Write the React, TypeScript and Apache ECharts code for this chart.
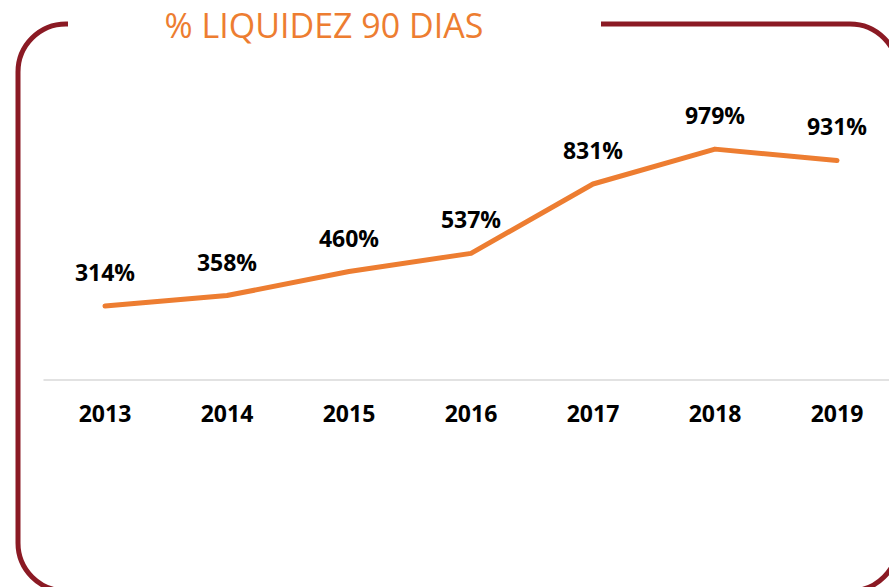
import React, { useEffect, useRef } from "react";
import * as echarts from "echarts";

const categories = ["2013", "2014", "2015", "2016", "2017", "2018", "2019"];
const values = [314, 358, 460, 537, 831, 979, 931];
const titleText = "% LIQUIDEZ 90 DIAS";

export default function App() {
  const ref = useRef<HTMLDivElement>(null);
  useEffect(() => {
    if (!ref.current) return;
    const chart = echarts.init(ref.current, null, { renderer: "svg" });
    chart.setOption({
      animation: false,
      backgroundColor: "#ffffff",
      grid: { left: 44, top: 97, width: 854, height: 283, containLabel: false },
      xAxis: {
        type: "category",
        data: categories,
        boundaryGap: true,
        axisLine: { show: true, lineStyle: { color: "#D9D9D9", width: 1.5 } },
        axisTick: { show: false },
        axisLabel: {
          color: "#000000",
          fontFamily: "Open Sans",
          fontWeight: "bold",
          fontSize: 23,
          margin: 21,
        },
      },
      yAxis: {
        type: "value",
        min: 0,
        max: 1200,
        show: false,
        splitLine: { show: false },
      },
      series: [
        {
          type: "line",
          data: values,
          showSymbol: true,
          symbol: "circle",
          symbolSize: 1,
          itemStyle: { color: "rgba(237,125,49,0)", borderWidth: 0 },
          lineStyle: { color: "#ED7D31", width: 5, cap: "round", join: "round" },
          label: {
            show: true,
            position: "top",
            distance: 22,
            formatter: (p: any) => p.value + "%",
            color: "#000000",
            opacity: 1,
            fontFamily: "Open Sans",
            fontWeight: "bold",
            fontSize: 23,
          },
        },
      ],
      graphic: [
        {
          type: "rect",
          shape: { x: 18, y: 24, width: 880, height: 567, r: 48 },
          style: { fill: "none", stroke: "#8B1A24", lineWidth: 5 },
          z: 10,
        },
        {
          type: "rect",
          shape: { x: 68, y: 16, width: 533, height: 16 },
          style: { fill: "#ffffff" },
          z: 11,
        },
        {
          type: "text",
          x: 324,
          y: 25,
          style: {
            text: titleText,
            fill: "#ED7D31",
            fontFamily: "Open Sans",
            fontSize: 34,
            textAlign: "center",
            textVerticalAlign: "middle",
          },
          z: 12,
        },
      ],
    });
    return () => chart.dispose();
  }, []);
  return (
    <div
      style={{
        position: "fixed",
        left: 0,
        top: 0,
        width: 889,
        height: 587,
        overflow: "hidden",
      }}
    >
      <div ref={ref} style={{ width: 920, height: 600 }} />
    </div>
  );
}
